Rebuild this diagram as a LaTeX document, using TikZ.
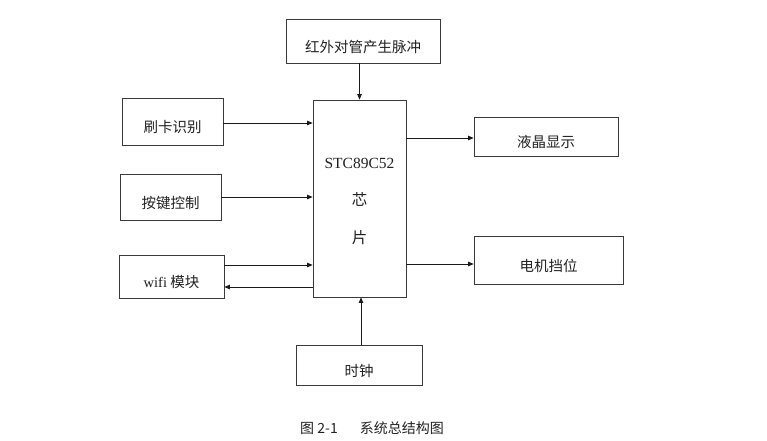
\documentclass[tikz,border=0pt]{standalone}
\usepackage{fontspec}
\setmainfont{Liberation Serif}
\newfontfamily\cjk{Noto Sans CJK SC}
\usetikzlibrary{arrows.meta, positioning, calc}
\definecolor{cline}{HTML}{1A1A1A}
\definecolor{cbox}{HTML}{3A3A3A}
\definecolor{ctext}{HTML}{222222}
\tikzset{
  every picture/.style={line width=0.8pt},
  box/.style={draw=cbox, fill=white, align=center, inner sep=0pt, text=ctext,
    font=\cjk\fontsize{14.5}{17}\selectfont, text height=22pt, text depth=0pt},
  chipbox/.style={draw=cbox, fill=white, inner sep=0pt, text=ctext,
    font=\fontsize{15.5}{18}\selectfont},
  arrow/.style={-{Triangle[length=5.5pt, width=4.5pt]}, draw=cline, line width=0.7pt},
  caption/.style={font=\cjk\fontsize{14}{17}\selectfont, text=ctext},
}
\newcommand{\lowered}[1]{\raisebox{-2pt}[\dimexpr\height+2pt][\dimexpr\depth-2pt]{#1}}

\begin{document}
\begin{tikzpicture}[x=1pt, y=-1pt]
  \useasboundingbox (0,0) rectangle (767,440);
  % the chip in the middle
  \node[chipbox, minimum width=93pt, minimum height=197pt] (chip) at (359.5,198.5)
    {\lowered{\begin{tabular}{@{}c@{}}STC89C52\\[18pt]{\cjk 芯}\\[20pt]{\cjk 片}\end{tabular}}};
  % inputs and outputs
  \node[box, minimum width=154pt, minimum height=44pt] (pulse) at (363,41) {红外对管产生脉冲};
  \node[box, minimum width=101pt, minimum height=47pt] (card) at (172.5,121.5) {刷卡识别};
  \node[box, minimum width=101pt, minimum height=46pt] (keys) at (170.5,197) {按键控制};
  \node[box, minimum width=105pt, minimum height=43pt] (wifi) at (171.5,276.5) {{\rmfamily wifi} 模块};
  \node[box, minimum width=144pt, minimum height=39pt] (lcd) at (546,136.5) {液晶显示};
  \node[box, minimum width=149pt, minimum height=48pt] (motor) at (548.5,260) {电机挡位};
  \node[box, minimum width=126pt, minimum height=40pt] (clock) at (359,365) {时钟};
  % connections
  \draw[arrow] (pulse.south -| chip.north) -- (chip.north);
  \draw[arrow] ([yshift=-1.5pt]card.east) -- ([yshift=-1.5pt]card.east -| chip.west);
  \draw[arrow] (keys.east) -- (keys.east -| chip.west);
  \draw[arrow] ([yshift=11.5pt]wifi.east) -- ([yshift=11.5pt]wifi.east -| chip.west);
  \draw[arrow] ([yshift=-10.5pt]wifi.east -| chip.west) -- ([yshift=-10.5pt]wifi.east);
  \draw[arrow] ([yshift=-1.5pt]lcd.west -| chip.east) -- ([yshift=-1.5pt]lcd.west);
  \draw[arrow] ([yshift=-4pt]motor.west -| chip.east) -- ([yshift=-4pt]motor.west);
  \draw[arrow] ([xshift=2pt]clock.north) -- ([xshift=2pt]clock.north |- chip.south);
  % caption
  \node[caption] (title) at (372,428) {图 2-1\hspace{22pt}系统总结构图};
\end{tikzpicture}
\end{document}
